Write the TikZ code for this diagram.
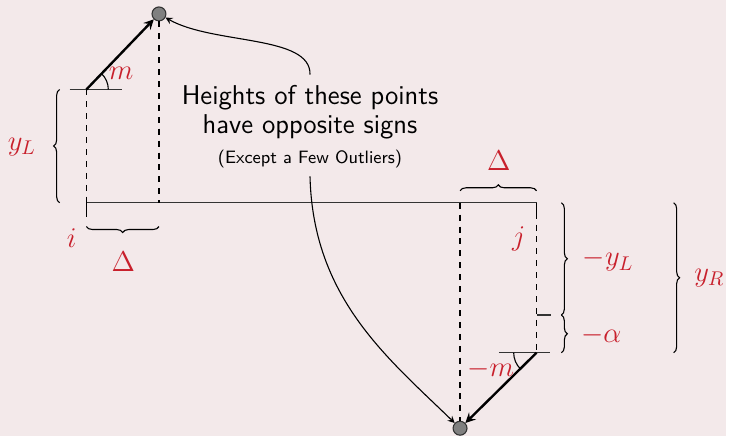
\documentclass[tikz,border=0pt]{standalone}
\usetikzlibrary{decorations.pathreplacing}
\definecolor{bgpink}{RGB}{243,233,234}
\definecolor{lblred}{RGB}{200,32,44}
\tikzset{
  pt/.style={circle, draw=black!80, fill=black!50, minimum size=7pt, inner sep=0pt},
  lbl/.style={text=lblred, font=\fontsize{14}{16}\selectfont},
  brc/.style={decorate, decoration={brace, amplitude=3pt}},
  slope/.style={very thick, ->},
}
\begin{document}
\begin{tikzpicture}[x=0.5pt, y=-0.5pt, >=stealth, line width=0.55pt, font=\sffamily]
				% 背景
				\fill[bgpink] (0,0) rectangle (731,439);
				
				% 两个点
				\node[pt] (top) at (160,14) {};
				\node[pt] (bot) at (463,431) {};
				\coordinate (A) at (87,90);
				\coordinate (B) at (540,355);
				\coordinate (i) at (87,204);
				\coordinate (j) at (540,204);
				
				% 横线与端点
				\draw[black!80] (i) -- (j);
				\draw (i) -- ++(0,14);
				\draw (j) -- ++(0,10);
				\draw[black!80] (70,90) -- (123,90);
				\draw[black!80] (502,355) -- (554,355);
				\draw[black!80] (540,317) -- (555,317);
				
				% 虚线
				\draw[dashed] (A) -- (i);
				\draw[dashed] (top) -- (160,204);
				\draw[dashed] (463,204) -- (bot);
				\draw[dashed] (540,214) -- (B);
				
				% 斜率与角
				\draw[slope] (A) -- (top);
				\draw[slope] (B) -- (bot);
				\draw (A) ++(22,0) arc[start angle=0, end angle=-46, radius=22];
				\draw (B) ++(-23,0) arc[start angle=180, end angle=135, radius=23];
				\node[lbl] (m) at (122,74) {$m$};
				\node[lbl] (mm) at (494,372) {$-m$};
				
				% 括号
				\draw[brc] (60,204) -- (60,90);
				\draw[brc] (160,228) -- (87,228);
				\draw[brc] (463,192) -- (540,192);
				\draw[brc] (565,204) -- (565,317);
				\draw[brc] (565,317) -- (565,355);
				\draw[brc] (678,204) -- (678,355);
				
				% 标签
				\node[lbl] (yL) at (22,148) {$y_L$};
				\node[lbl] (li) at (72,240) {$i$};
				\node[lbl] (dL) at (124,263) {$\Delta$};
				\node[lbl] (lj) at (522,240) {$j$};
				\node[lbl] (dR) at (502,162) {$\Delta$};
				\node[lbl] (nyL) at (612,262) {$-y_L$};
				\node[lbl] (na) at (605,337) {$-\alpha$};
				\node[lbl] (yR) at (714,280) {$y_R$};
				
				% 文字与箭头
				\node[align=center, font=\sffamily\fontsize{13.7}{15}\selectfont, inner sep=5pt] (head) at (312,113) {Heights of these points\\have opposite signs};
				\node[font=\sffamily\fontsize{9}{11}\selectfont, inner sep=4pt] (note) at (312,160) {(Except a Few Outliers)};
				\draw[->] (head.north) .. controls (313,35) and (215,45) .. (top);
				\draw[->] (note.south) .. controls (315,300) and (390,360) .. (bot);
\end{tikzpicture}
\end{document}
